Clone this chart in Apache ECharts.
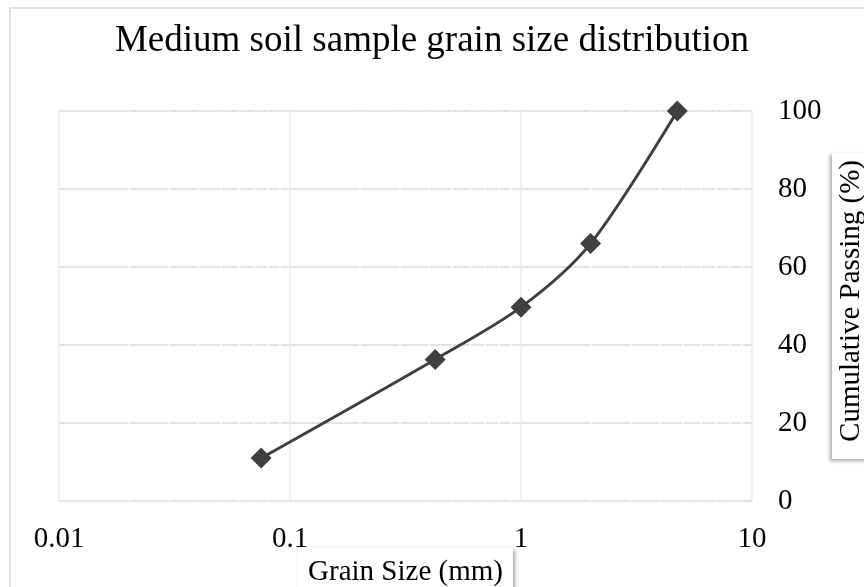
<!DOCTYPE html>
<html>
<head>
<meta charset="utf-8">
<script src="https://cdn.jsdelivr.net/npm/echarts@6/dist/echarts.min.js"></script>
<style>
  html, body { margin: 0; padding: 0; background: #fff; }
  #chart { width: 864px; height: 587px; }
</style>
</head>
<body>
<div id="chart"></div>
<script>
// Sieve sizes (mm) and cumulative percent passing
const grainSize = [0.075, 0.425, 1, 2, 4.75];
const passing = [11, 36.3, 49.7, 66, 100];

// Axis tick labels
const xTickLabels = ['0.01', '0.1', '1', '10'];
const yTickValues = [0, 20, 40, 60, 80, 100];

// Intermediate log positions where the horizontal grid lines are broken
const minorPositions = [
  0.02, 0.03, 0.04, 0.05, 0.06, 0.07, 0.08, 0.09,
  0.2, 0.3, 0.4, 0.5, 0.6, 0.7, 0.8, 0.9,
  2, 3, 4, 5, 6, 7, 8, 9
];

const FONT = '"Liberation Serif", "Times New Roman", serif';

const chart = echarts.init(document.getElementById('chart'), null, { renderer: 'canvas' });

chart.setOption({
  backgroundColor: '#fff',
  animation: false,
  title: {
    text: 'Medium soil sample grain size distribution',
    left: 'center',
    top: 18,
    textStyle: { fontFamily: FONT, fontSize: 37, fontWeight: 'normal', color: '#000' }
  },
  graphic: [{
    type: 'rect',
    shape: { x: 10, y: 8, width: 900, height: 620 },
    style: { fill: 'none', stroke: '#d9d9d9', lineWidth: 1.5 },
    silent: true,
    z: -10
  }],
  grid: { left: 59, right: 112, top: 111, bottom: 86, containLabel: false, outerBoundsMode: 'none' },
  xAxis: {
    type: 'log',
    logBase: 10,
    min: 0.01,
    max: 10,
    axisLine: { show: false },
    axisTick: { show: false },
    axisLabel: {
      margin: 24,
      fontFamily: FONT,
      fontSize: 29,
      color: '#000',
      formatter: function (v) {
        const idx = Math.round(Math.log10(v) + 2);
        return xTickLabels[idx] !== undefined ? xTickLabels[idx] : '';
      }
    },
    splitLine: { show: true, lineStyle: { color: '#ececec', width: 1.5 } },
    name: 'Grain Size (mm)',
    nameLocation: 'middle',
    nameGap: 47,
    nameMoveOverlap: false,
    nameTextStyle: {
      fontFamily: FONT,
      fontSize: 29,
      color: '#000',
      backgroundColor: '#fff',
      padding: [10, 10, 20, 10],
      shadowColor: 'rgba(0,0,0,0.35)',
      shadowBlur: 4,
      shadowOffsetX: 2,
      shadowOffsetY: 2
    }
  },
  yAxis: {
    type: 'value',
    position: 'right',
    min: 0,
    max: 100,
    interval: 20,
    axisLine: { show: false },
    axisTick: { show: false },
    axisLabel: {
      margin: 26,
      fontFamily: FONT,
      fontSize: 29,
      color: '#000',
      formatter: function (v) {
        return yTickValues.indexOf(v) >= 0 ? String(v) : '';
      }
    },
    splitLine: { show: true, lineStyle: { color: '#d9d9d9', width: 1.5 } },
    name: 'Cumulative Passing (%)',
    nameLocation: 'middle',
    nameRotate: 90,
    nameGap: 80,
    nameMoveOverlap: false,
    nameTextStyle: {
      fontFamily: FONT,
      fontSize: 29,
      color: '#000',
      backgroundColor: '#fff',
      padding: [5, 7, 10, 17],
      shadowColor: 'rgba(0,0,0,0.35)',
      shadowBlur: 4,
      shadowOffsetX: -2,
      shadowOffsetY: 2
    }
  },
  series: [
    {
      // white breaks across the horizontal grid lines
      type: 'line',
      data: [],
      silent: true,
      z: 1,
      markLine: {
        silent: true,
        symbol: 'none',
        label: { show: false },
        lineStyle: { color: '#fff', width: 1.5, type: 'solid' },
        data: minorPositions.map(function (v) { return { xAxis: v }; })
      }
    },
    {
      type: 'line',
      z: 5,
      smooth: 0.3,
      data: grainSize.map(function (g, i) { return [g, passing[i]]; }),
      lineStyle: { color: '#404040', width: 3 },
      symbol: 'diamond',
      symbolSize: 21,
      itemStyle: { color: '#404040' }
    }
  ]
});
</script>
</body>
</html>
